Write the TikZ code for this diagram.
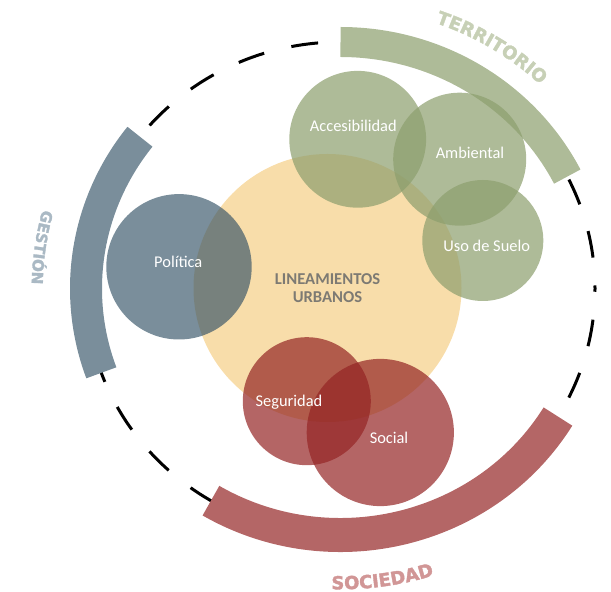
\documentclass[tikz,border=0pt]{standalone}
\usepackage{fontspec}
\setmainfont{Carlito}
\newfontfamily\arcfont{DejaVu Sans}[BoldFeatures={FakeBold=2}]
\usetikzlibrary{decorations.text,calc}
\definecolor{gestion}{RGB}{122,142,155}
\definecolor{polfill}{RGB}{50,81,101}
\definecolor{terr}{RGB}{174,187,152}
\definecolor{greenfill}{RGB}{141,159,110}
\definecolor{soc}{RGB}{180,102,102}
\definecolor{redfill}{RGB}{148,36,36}
\definecolor{yel}{RGB}{248,221,170}
\definecolor{lintext}{RGB}{125,122,115}
\definecolor{terrtext}{RGB}{199,208,182}
\definecolor{gesttext}{RGB}{170,185,196}
\definecolor{soctext}{RGB}{209,150,150}
\newcommand\bigarcfmt{\arcfont\bfseries\fontsize{9pt}{10pt}\selectfont}
\newcommand\smallarcfmt{\arcfont\bfseries\fontsize{7.6pt}{9pt}\selectfont}
\begin{document}
\begin{tikzpicture}[x=0.5pt,y=-0.5pt,
  ring/.style={line width=1.5pt, dash pattern=on 13.5pt off 14pt, dash phase=12pt},
  band/.style={line width=#1, line cap=butt},
  bub/.style={circle, inner sep=0pt, draw=none},
  greenbub/.style={bub, fill=greenfill, fill opacity=0.71},
  redbub/.style={bub, fill=redfill, fill opacity=0.7},
  polbub/.style={bub, fill=polfill, fill opacity=0.65},
  lab/.style={text=white, font=\fontsize{8.2pt}{9pt}\selectfont, inner sep=0pt},
  arctext/.style={decorate, decoration={text along path, text align=center, text color=#1}}
]
\useasboundingbox (0,0) rectangle (611,592);
\coordinate (E) at (340.5,288.5);

% dashed ring
\draw[ring] (E) ellipse [x radius=127.25pt, y radius=123.25pt];

% thick bands
\coordinate (terrS) at ($(E)+(90:127.25pt and 123.25pt)$);
\coordinate (gestS) at ($(E)+(142:127.25pt and 123.25pt)$);
\coordinate (socS) at ($(E)+(239.4:127.25pt and 123.25pt)$);
\draw[band=15pt, terr] (terrS) arc[start angle=90, end angle=27, x radius=127.25pt, y radius=123.25pt];
\draw[band=16pt, gestion] (gestS) arc[start angle=142, end angle=200, x radius=127.25pt, y radius=123.25pt];
\draw[band=17pt, soc] (socS) arc[start angle=239.4, end angle=328.7, x radius=127.25pt, y radius=123.25pt];

% curved titles
\coordinate (terrT) at ($(E)+(88:145.07pt and 140.5pt)$);
\coordinate (gestT) at ($(E)+(142:154.4pt and 149.5pt)$);
\coordinate (socT) at ($(E)+(248:155.2pt and 150.4pt)$);
\path[arctext=terrtext, decoration={text={|\bigarcfmt|TERRITORIO}}] (terrT) arc[start angle=88, end angle=29, x radius=145.07pt, y radius=140.5pt];
\path[arctext=gesttext, decoration={text={|\smallarcfmt|GESTIÓN}}] (gestT) arc[start angle=142, end angle=202, x radius=154.4pt, y radius=149.5pt];
\path[arctext=soctext, decoration={text={|\bigarcfmt|SOCIEDAD}}] (socT) arc[start angle=248, end angle=308, x radius=155.2pt, y radius=150.4pt];

% central circle
\node[bub, fill=yel, minimum size=134pt] (lin) at (327.5,288) {};

% topic circles
\node[polbub, minimum size=72.7pt] (pol) at (179,266.8) {};
\node[greenbub, minimum size=68.4pt] (acc) at (357.7,139.3) {};
\node[greenbub, minimum size=66.5pt] (amb) at (459.7,159.2) {};
\node[greenbub, minimum size=60.5pt] (uso) at (482.8,240.5) {};
\node[redbub, minimum size=64pt] (seg) at (306.8,401.2) {};
\node[redbub, minimum size=73.6pt] (soci) at (380.3,432.5) {};

% labels
\node[lab] (tpol) at (178.3,261.7) {Política};
\node[lab] (tacc) at (353.3,126) {Accesibilidad};
\node[lab] (tamb) at (470,153.3) {Ambiental};
\node[lab] (tuso) at (486.7,245.7) {Uso de Suelo};
\node[lab] (tseg) at (289,402.7) {Seguridad};
\node[lab] (tsoc) at (389,438.3) {Social};
\node[text=lintext, align=center, inner sep=0pt, font=\bfseries\fontsize{8.3pt}{9.15pt}\selectfont] (tlin) at (327.5,288.2) {LINEAMIENTOS\\URBANOS};
\end{tikzpicture}
\end{document}
